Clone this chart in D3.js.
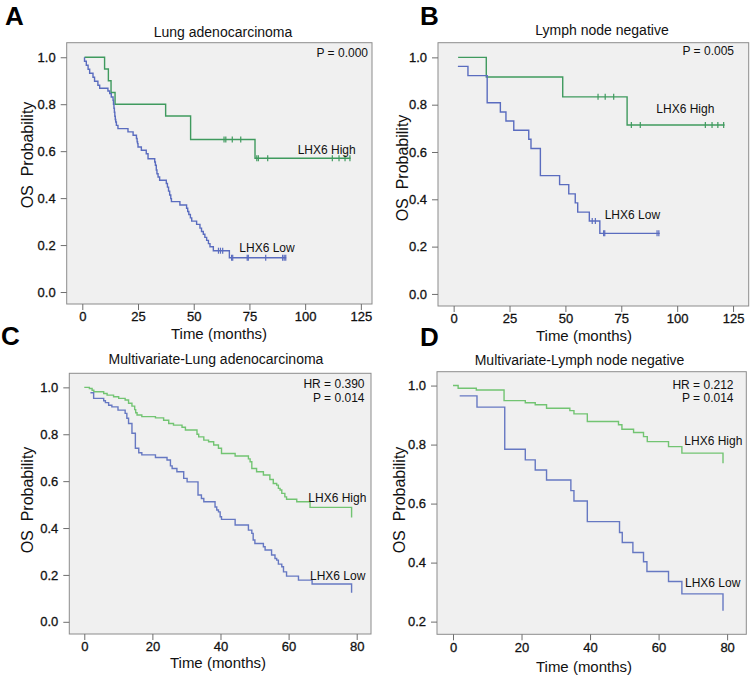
<!DOCTYPE html>
<html>
<head>
<meta charset="utf-8">
<script src="https://cdnjs.cloudflare.com/ajax/libs/d3/7.8.5/d3.min.js"></script>
<style>
  html, body { margin: 0; padding: 0; background: #ffffff; }
  svg { display: block; font-family: "Liberation Sans", Arial, sans-serif; }
</style>
</head>
<body>
<svg id="chart" width="754" height="682"></svg>
<script>
// ---------------- DATA ----------------
// Panel A: Lung adenocarcinoma
const aHighStart = [1.0, 1.0];
const aHighTimes = [10.0, 11.7, 12.9, 14.7, 37.4, 48.6, 77.5];
const aHighSurv  = [0.95, 0.90, 0.85, 0.80, 0.75, 0.65, 0.57];
const aHighCensor = [63.6, 64.4, 67.3, 71.1, 78.3, 79.0, 83.2, 112.2, 115.2, 117.9, 120.1];
const aHighEnd = 120.4;

const aLowStart = [1.0, 1.0];
const aLowTimes = [1.0, 1.8, 2.6, 3.3, 4.8, 5.5, 7.0, 7.8, 11.5, 12.3, 13.0, 13.8, 14.0, 14.2, 14.4, 14.6, 14.8, 15.0, 15.3, 16.0,
  20.5, 22.8, 24.3, 24.6, 24.8, 25.0, 26.5, 28.7, 29.5, 32.5, 32.8, 33.2, 33.5, 34.0, 34.7, 37.7, 38.2, 38.7, 39.2, 39.7,
  40.0, 43.8, 46.8, 47.3, 47.8, 48.5, 49.1, 51.3, 52.8, 53.5, 54.3, 55.0, 55.8, 56.6, 57.3, 58.8, 66.0];
const aLowSurv = [0.983, 0.966, 0.949, 0.932, 0.915, 0.898, 0.881, 0.868, 0.856, 0.845, 0.831, 0.817, 0.800, 0.783, 0.766, 0.749, 0.735, 0.724, 0.710, 0.696,
  0.682, 0.668, 0.654, 0.640, 0.632, 0.618, 0.604, 0.589, 0.568, 0.554, 0.540, 0.520, 0.504, 0.490, 0.476, 0.462, 0.447, 0.430, 0.413, 0.398,
  0.385, 0.371, 0.357, 0.343, 0.330, 0.316, 0.302, 0.288, 0.272, 0.258, 0.246, 0.233, 0.220, 0.206, 0.193, 0.176, 0.146];
const aLowCensor = [61.1, 62.0, 63.0, 67.0, 67.5, 74.0, 74.5, 82.3, 89.9, 90.6, 91.3];
const aLowEnd = 91.5;

// Panel B: Lymph node negative
const bHighStart = [2.0, 1.0];
const bHighTimes = [14.6, 48.8, 77.6];
const bHighSurv  = [0.917, 0.833, 0.714];
const bHighCensor = [64.6, 67.8, 71.6, 79.5, 83.5, 112.6, 115.6, 118.2, 120.8];
const bHighEnd = 121.2;

const bLowStart = [1.9, 0.962];
const bLowTimes = [6.4, 15.0, 20.9, 23.4, 26.9, 33.6, 34.6, 38.8, 47.4, 51.5, 54.4, 55.5, 60.7, 65.4];
const bLowSurv  = [0.923, 0.808, 0.769, 0.731, 0.692, 0.654, 0.615, 0.500, 0.462, 0.423, 0.385, 0.346, 0.308, 0.256];
const bLowCensor = [62.0, 63.4, 67.1, 67.6, 91.0, 91.8];
const bLowEnd = 92.2;

// Panel C: Multivariate - Lung adenocarcinoma
const cHighStart = [0.0, 1.0];
const cHighTimes = [1.5, 2.3, 2.8, 5.7, 6.7, 8.6, 10.1, 12.0, 13.0, 14.0, 14.8, 15.1, 15.5, 16.9, 20.9, 23.3, 24.8, 26.2, 28.7, 29.7,
  33.1, 33.6, 35.1, 36.5, 38.0, 39.4, 40.3, 44.3, 48.2, 48.7, 49.2, 50.6, 52.6, 54.5, 55.5, 56.5, 57.0, 57.5, 58.0, 58.9,
  59.4, 62.4, 66.3, 78.5];
const cHighSurv = [0.995, 0.988, 0.981, 0.974, 0.967, 0.960, 0.953, 0.946, 0.932, 0.920, 0.905, 0.892, 0.882, 0.875, 0.870, 0.860, 0.846, 0.839, 0.830, 0.818,
  0.800, 0.789, 0.775, 0.768, 0.754, 0.740, 0.718, 0.707, 0.695, 0.683, 0.654, 0.640, 0.626, 0.607, 0.590, 0.583, 0.569, 0.562, 0.548, 0.533,
  0.523, 0.512, 0.488, 0.445];

const cLowStart = [1.8, 0.977];
const cLowTimes = [2.75, 5.7, 6.2, 7.15, 8.1, 9.9, 12.0, 12.5, 13.0, 14.0, 15.0, 16.0, 16.9, 20.9, 24.3, 25.3, 25.8, 27.2, 29.2, 30.2,
  33.4, 34.4, 35.1, 38.4, 38.9, 39.4, 39.9, 40.3, 44.3, 48.2, 49.2, 49.6, 50.1, 52.6, 53.1, 55.0, 56.0, 56.5, 57.0, 58.0,
  58.5, 59.4, 62.9, 66.9, 78.5];
const cLowSurv = [0.953, 0.943, 0.935, 0.924, 0.917, 0.903, 0.889, 0.868, 0.846, 0.804, 0.740, 0.721, 0.712, 0.701, 0.690, 0.665, 0.654, 0.640, 0.612, 0.597,
  0.541, 0.526, 0.512, 0.490, 0.477, 0.469, 0.448, 0.437, 0.413, 0.391, 0.377, 0.349, 0.334, 0.320, 0.306, 0.285, 0.270, 0.263, 0.246, 0.235,
  0.213, 0.195, 0.178, 0.161, 0.124];

// Panel D: Multivariate - Lymph node negative
const dHighStart = [0.0, 1.0];
const dHighTimes = [1.5, 6.8, 14.9, 21.1, 24.0, 27.3, 34.1, 35.3, 39.2, 48.3, 49.3, 52.7, 55.6, 56.7, 62.9, 66.8, 78.8];
const dHighSurv  = [0.991, 0.985, 0.949, 0.942, 0.935, 0.923, 0.915, 0.904, 0.878, 0.867, 0.852, 0.841, 0.827, 0.810, 0.793, 0.771, 0.737];

const dLowStart = [1.95, 0.965];
const dLowTimes = [7.0, 15.1, 21.1, 24.0, 27.3, 34.4, 35.3, 39.2, 48.6, 49.4, 52.5, 55.6, 56.6, 62.9, 66.8, 78.8];
const dLowSurv  = [0.927, 0.784, 0.748, 0.714, 0.680, 0.644, 0.609, 0.539, 0.502, 0.468, 0.434, 0.403, 0.370, 0.336, 0.294, 0.237];

// Axis ticks
const xTicksAB = [0, 25, 50, 75, 100, 125];
const xTicksCD = [0, 20, 40, 60, 80];
const yTicksABC = [0.0, 0.2, 0.4, 0.6, 0.8, 1.0];
const yTicksD = [0.2, 0.4, 0.6, 0.8, 1.0];

// Texts
const panelLetters = ["A", "B", "C", "D"];
const panelTitles = ["Lung adenocarcinoma", "Lymph node negative", "Multivariate-Lung adenocarcinoma", "Multivariate-Lymph node negative"];
const statTexts = [["P = 0.000"], ["P = 0.005"], ["HR = 0.390", "P = 0.014"], ["HR = 0.212", "P = 0.014"]];
const groupNames = ["LHX6 High", "LHX6 Low"];
const xLabel = "Time (months)";
const yLabel = "OS  Probability";

// ---------------- LAYOUT ----------------
const svg = d3.select("#chart");
const GREEN_DARK = "#3f9a5e", BLUE_DARK = "#5a6cbf";
const GREEN_LIGHT = "#72c472", BLUE_LIGHT = "#6678c2";

const panels = [
  { letter: [5, 25], frame: [66.7, 372, 42.7, 304], xDom: [-7, 130], yDom: [-0.051, 1.062],
    xTicks: xTicksAB, yTicks: yTicksABC, title: [223, 37], stat: [368, 57, 14],
    xlab: [219, 339], ylab: [33, 155], hiLab: [297.7, 154], loLab: [239.3, 252.3],
    colors: [GREEN_DARK, BLUE_DARK],
    series: [
      { start: aHighStart, t: aHighTimes, s: aHighSurv, censor: aHighCensor, end: aHighEnd },
      { start: aLowStart, t: aLowTimes, s: aLowSurv, censor: aLowCensor, end: aLowEnd }
    ] },
  { letter: [420, 25], frame: [438, 748.7, 42.7, 306], xDom: [-7, 132], yDom: [-0.051, 1.062],
    xTicks: xTicksAB, yTicks: yTicksABC, title: [602, 35], stat: [734, 55, 14],
    xlab: [584, 341], ylab: [408, 168], hiLab: [656.3, 113.3], loLab: [604.7, 219],
    colors: [GREEN_DARK, BLUE_DARK],
    series: [
      { start: bHighStart, t: bHighTimes, s: bHighSurv, censor: bHighCensor, end: bHighEnd },
      { start: bLowStart, t: bLowTimes, s: bLowSurv, censor: bLowCensor, end: bLowEnd }
    ] },
  { letter: [1, 345], frame: [69.3, 371, 373.3, 634], xDom: [-4.4, 84.2], yDom: [-0.052, 1.06],
    xTicks: xTicksCD, yTicks: yTicksABC, title: [216, 363.5], stat: [364.5, 387.5, 14],
    xlab: [218, 668], ylab: [33, 500], hiLab: [308.3, 501.7], loLab: [310, 580],
    colors: [GREEN_LIGHT, BLUE_LIGHT],
    series: [
      { start: cHighStart, t: cHighTimes, s: cHighSurv, censor: [], end: null },
      { start: cLowStart, t: cLowTimes, s: cLowSurv, censor: [], end: null }
    ] },
  { letter: [420, 346], frame: [437, 746.3, 371.7, 634.3], xDom: [-4.67, 85.6], yDom: [0.157, 1.047],
    xTicks: xTicksCD, yTicks: yTicksD, title: [579.5, 365], stat: [733.5, 388.5, 13.5],
    xlab: [584, 671.5], ylab: [405, 500], hiLab: [684.3, 445], loLab: [685, 586.7],
    colors: [GREEN_LIGHT, BLUE_LIGHT],
    series: [
      { start: dHighStart, t: dHighTimes, s: dHighSurv, censor: [], end: null },
      { start: dLowStart, t: dLowTimes, s: dLowSurv, censor: [], end: null }
    ] }
];

panels.forEach((p, i) => {
  const [L, R, T, B] = p.frame;
  const x = d3.scaleLinear().domain(p.xDom).range([L, R]);
  const y = d3.scaleLinear().domain(p.yDom).range([B, T]);
  const g = svg.append("g");

  // plot background + frame
  g.append("rect").attr("x", L).attr("y", T).attr("width", R - L).attr("height", B - T)
    .attr("fill", "#f0f0f0").attr("stroke", "#8c8c8c").attr("stroke-width", 1);

  // axes
  const xAxis = d3.axisBottom(x).tickValues(p.xTicks).tickFormat(d3.format("d")).tickSize(6).tickPadding(2).tickSizeOuter(0);
  const yAxis = d3.axisLeft(y).tickValues(p.yTicks).tickFormat(d3.format(".1f")).tickSize(6).tickPadding(5).tickSizeOuter(0);
  const gx = g.append("g").attr("transform", `translate(0,${B})`).call(xAxis);
  const gy = g.append("g").attr("transform", `translate(${L},0)`).call(yAxis);
  [gx, gy].forEach(ax => {
    ax.select(".domain").remove();
    ax.selectAll(".tick line").attr("stroke", "#6e6e6e");
    ax.selectAll(".tick text").attr("fill", "#111").attr("stroke", "#111").attr("stroke-width", 0.3)
      .style("font-size", "13px")
      .style("font-family", "Liberation Sans, Arial, sans-serif");
  });

  // curves
  const line = d3.line().x(d => x(d[0])).y(d => y(d[1])).curve(d3.curveStepAfter);
  p.series.forEach((s, k) => {
    const pts = [s.start].concat(s.t.map((t, j) => [t, s.s[j]]));
    if (s.end !== null) pts.push([s.end, s.s[s.s.length - 1]]);
    g.append("path").datum(pts).attr("d", line).attr("fill", "none")
      .attr("stroke", p.colors[k]).attr("stroke-width", 1.4);
    // censor marks
    const bis = d3.bisector(d => d).right;
    s.censor.forEach(c => {
      const idx = bis(s.t, c);
      const v = idx === 0 ? s.start[1] : s.s[idx - 1];
      g.append("line").attr("x1", x(c)).attr("x2", x(c)).attr("y1", y(v) - 3).attr("y2", y(v) + 3)
        .attr("stroke", p.colors[k]).attr("stroke-width", 1.2);
    });
  });

  // texts
  g.append("text").attr("x", p.letter[0]).attr("y", p.letter[1]).text(panelLetters[i])
    .style("font-size", "26px").style("font-weight", "bold").attr("fill", "#000");
  g.append("text").attr("x", p.title[0]).attr("y", p.title[1]).attr("text-anchor", "middle")
    .text(panelTitles[i]).style("font-size", "14px").attr("fill", "#111");
  statTexts[i].forEach((st, j) => {
    g.append("text").attr("x", p.stat[0]).attr("y", p.stat[1] + j * p.stat[2]).attr("text-anchor", "end")
      .text(st).style("font-size", "12px").attr("fill", "#111");
  });
  g.append("text").attr("x", p.hiLab[0]).attr("y", p.hiLab[1]).text(groupNames[0])
    .style("font-size", "12px").attr("fill", "#111");
  g.append("text").attr("x", p.loLab[0]).attr("y", p.loLab[1]).text(groupNames[1])
    .style("font-size", "12px").attr("fill", "#111");
  g.append("text").attr("x", p.xlab[0]).attr("y", p.xlab[1]).attr("text-anchor", "middle")
    .text(xLabel).style("font-size", "15px").attr("fill", "#111");
  g.append("text").attr("transform", `translate(${p.ylab[0]},${p.ylab[1]}) rotate(-90)`)
    .attr("text-anchor", "middle").text(yLabel).style("font-size", "16px").attr("fill", "#111")
    .style("white-space", "pre");
});
</script>
</body>
</html>
